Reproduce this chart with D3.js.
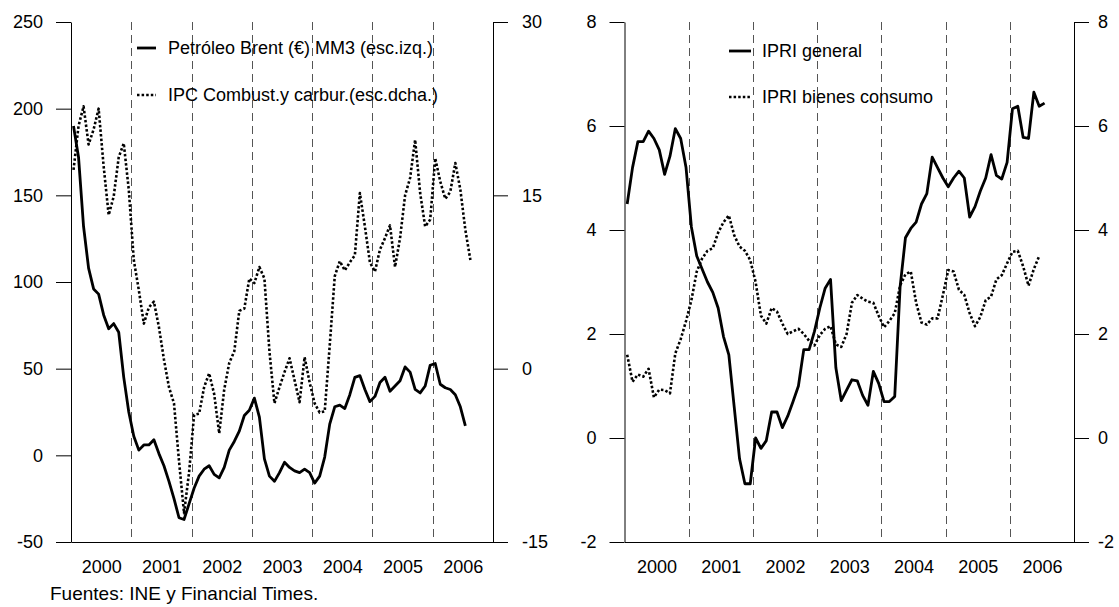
<!DOCTYPE html>
<html><head><meta charset="utf-8">
<script src="https://cdn.jsdelivr.net/npm/d3@7"></script>
<style>
body{margin:0;background:#fff}
svg{display:block}
text{font-family:"Liberation Sans",Arial,sans-serif;font-size:18px;fill:#000}
</style>
</head><body>
<svg id="c" width="1119" height="607"></svg>
<script>
const years = ["2000","2001","2002","2003","2004","2005","2006"];

// Left panel: Brent oil price in euros, 3-month moving average (left scale)
const brent = [
  190, 172, 132, 108, 96, 93, 81, 73, 76, 71, 45, 25,
  11, 3, 6, 6, 9, 1, -6, -15, -25, -36, -37, -28,
  -19, -12, -8, -6, -11, -13, -7, 3, 8, 14, 23, 26,
  33, 22, -2, -12, -15, -10, -4, -7, -9, -10, -8, -10,
  -16, -12, -1, 18, 28, 29, 27, 35, 45, 46, 38, 31,
  34, 42, 45, 37, 40, 43, 51, 48, 38, 36, 40, 52,
  53, 41, 39, 38, 35, 28, 17
];
// Left panel: CPI fuels (right scale)
const ipcComb = [
  17.2, 21, 22.7, 19.4, 20.7, 22.5, 17.5, 13.3, 14.9, 18.3, 19.5, 15.5,
  9.4, 6.8, 3.9, 5.3, 5.8, 3.6, 0.8, -1.6, -3, -8, -12.5, -9,
  -4, -3.9, -1.6, -0.4, -2.2, -5.6, -1.8, 0.5, 1.5, 5, 5.2, 7.8,
  7.4, 8.8, 7.8, 1.5, -3, -1.6, -0.3, 0.9, -1, -2.9, 1, -1.2,
  -3, -3.8, -3.7, 2, 8, 9.3, 8.5, 9.2, 9.8, 15.2, 12.3, 9.2,
  8.4, 10.3, 11.3, 12.4, 8.8, 11.3, 15, 16.5, 19.8, 15.2, 12.3, 12.9,
  18.2, 16.2, 14.7, 15.3, 17.8, 15.5, 12, 9.4
];
// Right panel
const ipriGeneral = [
  4.5, 5.2, 5.7, 5.7, 5.9, 5.76, 5.54, 5.07, 5.42, 5.95, 5.76, 5.2,
  4.06, 3.5, 3.25, 3.0, 2.8, 2.5, 1.95, 1.6, 0.6, -0.4, -0.88, -0.88,
  0.0, -0.2, -0.05, 0.5, 0.5, 0.2, 0.42, 0.7, 1.0, 1.7, 1.7, 2.05,
  2.5, 2.88, 3.05, 1.35, 0.72, 0.92, 1.12, 1.1, 0.82, 0.63, 1.28, 1.05,
  0.7, 0.7, 0.8, 2.9, 3.85, 4.03, 4.15, 4.5, 4.7, 5.4, 5.2, 5.0,
  4.83, 5.0, 5.13, 5.0, 4.25, 4.45, 4.75, 5.0, 5.45, 5.05, 4.98, 5.3,
  6.33, 6.38, 5.78, 5.76, 6.65, 6.38, 6.44
];
const ipriConsumo = [
  1.6, 1.08, 1.22, 1.18, 1.33, 0.78, 0.93, 0.92, 0.86, 1.63, 1.9, 2.25,
  2.65, 3.2, 3.45, 3.6, 3.65, 3.95, 4.15, 4.28, 3.9, 3.68, 3.6, 3.42,
  3.0, 2.35, 2.2, 2.5, 2.43, 2.2, 2.0, 2.05, 2.1, 2.0, 1.87, 1.78,
  1.98, 2.1, 2.15, 1.8, 1.75, 2.0, 2.6, 2.75, 2.68, 2.62, 2.6, 2.35,
  2.13, 2.25, 2.4, 2.93, 3.15, 3.2, 2.6, 2.22, 2.18, 2.3, 2.3, 2.75,
  3.23, 3.2, 2.85, 2.75, 2.4, 2.15, 2.33, 2.65, 2.72, 3.05, 3.13, 3.36,
  3.58, 3.6, 3.3, 2.93, 3.25, 3.5
];

const ticksLeftA = [-50, 0, 50, 100, 150, 200, 250];
const ticksRightA = [-15, 0, 15, 30];
const ticksB = [-2, 0, 2, 4, 6, 8];
const legendA = ["Petróleo Brent (€) MM3 (esc.izq.)", "IPC Combust.y carbur.(esc.dcha.)"];
const legendB = ["IPRI general", "IPRI bienes consumo"];
const source = "Fuentes: INE y Financial Times.";

const svg = d3.select("#c");
const TOP = 22, BOTTOM = 542;
const DOT = "2.5,2.1";

function panel(cfg) {
  const g = svg.append("g");
  const x = d3.scaleLinear().domain([0, years.length * 12]).range([cfg.x0, cfg.x1]);
  const yL = d3.scaleLinear().domain(cfg.domL).range([BOTTOM, TOP]);
  const yR = d3.scaleLinear().domain(cfg.domR).range([BOTTOM, TOP]);

  // dashed year separators
  g.append("g").selectAll("line")
    .data(years.slice(1).map((_, i) => (i + 1) * 12))
    .join("line")
    .attr("x1", d => Math.round(x(d)) + 0.5).attr("x2", d => Math.round(x(d)) + 0.5)
    .attr("y1", TOP).attr("y2", BOTTOM)
    .attr("stroke", "#555").attr("stroke-width", 1).attr("stroke-dasharray", "8,5");

  const fmt = d => String(d);
  const ga = g.append("g").attr("transform", `translate(${cfg.x0},0)`)
    .call(d3.axisLeft(yL).tickValues(cfg.ticksL).tickSize(15).tickSizeOuter(0).tickPadding(13).tickFormat(fmt));
  const gb = g.append("g").attr("transform", `translate(${cfg.x1},0)`)
    .call(d3.axisRight(yR).tickValues(cfg.ticksR).tickSize(15).tickSizeOuter(0).tickPadding(cfg.padR).tickFormat(fmt));
  const gx = g.append("g").attr("transform", `translate(0,${BOTTOM})`)
    .call(d3.axisBottom(x).tickValues(years.map((_, i) => i * 12 + 6)).tickSize(0).tickPadding(18)
      .tickFormat((d, i) => years[i]));
  [ga, gb, gx].forEach(a => {
    a.attr("font-size", null).attr("font-family", null);
    a.selectAll("path,line").attr("stroke", "#000");
    a.selectAll("text").attr("fill", "#000");
  });

  const line = sc => d3.line().x((d, i) => x(i + 0.5)).y(d => sc(d));
  cfg.series.forEach(s => {
    g.append("path").datum(s.data)
      .attr("d", line(s.right ? yR : yL))
      .attr("fill", "none").attr("stroke", "#000")
      .attr("stroke-width", s.dotted ? 2.6 : 2.8)
      .attr("stroke-linejoin", "round")
      .attr("stroke-dasharray", s.dotted ? DOT : null);
  });

  // legend
  cfg.legend.forEach((t, i) => {
    const ly = cfg.legY[i];
    g.append("line").attr("x1", cfg.legX).attr("x2", cfg.legX + cfg.legW)
      .attr("y1", ly).attr("y2", ly).attr("stroke", "#000")
      .attr("stroke-width", i === 0 ? 2.8 : 2.6)
      .attr("stroke-dasharray", i === 0 ? null : DOT);
    g.append("text").attr("x", cfg.legTX).attr("y", ly + 6).text(t);
  });
}

panel({
  x0: 71, x1: 493, domL: [-50, 250], domR: [-15, 30],
  ticksL: ticksLeftA, ticksR: ticksRightA, padR: 14,
  series: [{data: brent}, {data: ipcComb, right: true, dotted: true}],
  legend: legendA, legX: 137, legW: 19, legTX: 168, legY: [48, 95]
});
panel({
  x0: 624.5, x1: 1074, domL: [-2, 8], domR: [-2, 8],
  ticksL: ticksB, ticksR: ticksB, padR: 9,
  series: [{data: ipriGeneral}, {data: ipriConsumo, dotted: true}],
  legend: legendB, legX: 729, legW: 22, legTX: 762, legY: [51, 97]
});

svg.append("text").attr("x", 50).attr("y", 600).style("font-size", "19px").text(source);
</script>
</body></html>
